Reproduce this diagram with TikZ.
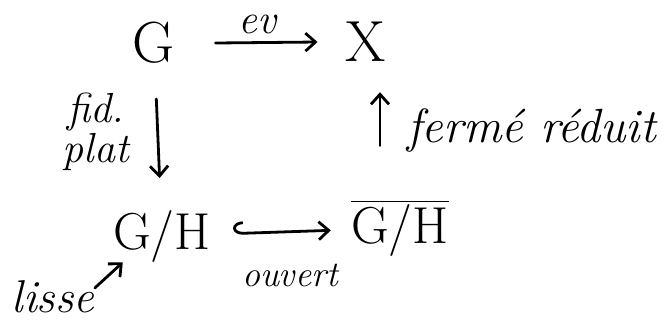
\documentclass[tikz,border=0pt]{standalone}
\usetikzlibrary{arrows.meta}
\begin{document}
\begin{tikzpicture}[x=0.5pt, y=-0.5pt,
  obj/.style={inner sep=0pt, font=\fontsize{29}{30}\selectfont},
  lbl/.style={inner sep=0pt, font=\fontsize{21}{20}\selectfont\itshape},
  cdarrow/.style={line width=1.4pt, line cap=round,
    -{Straight Barb[length=5pt, width=9pt, line width=1.4pt]}},
  hookarrow/.style={line width=1.4pt, line cap=round,
    {Hooks[right, length=5pt, width=12pt, line width=1.4pt]}-{Straight Barb[length=5pt, width=9pt, line width=1.4pt]}}]

  \useasboundingbox (0,0) rectangle (665,323);

  % --- Objets ---
  \node[obj] (G)     at (154,43)  {G};
  \node[obj] (X)     at (366,42)  {X};
  \node[obj, font=\fontsize{26}{28}\selectfont] (GH)    at (162,236) {G/H};
  \node[obj, font=\fontsize{26}{28}\selectfont] (GHbar) at (400,228) {$\overline{\mbox{G/H}}$};

  % --- Fleches ---
  \draw[cdarrow] ([xshift=20pt]G.east) -- ([xshift=-14pt]X.west);
  \draw[cdarrow, shorten <=28pt, shorten >=29pt] (G.center) -- (GH.center);
  \coordinate (upfoot) at ([xshift=-10pt]GHbar.north);
  \draw[cdarrow, shorten <=27pt, shorten >=15pt] (upfoot) -- (upfoot |- X.south);
  \draw[hookarrow, shorten <=11pt, shorten >=10pt] (GH) -- (GHbar);

  % --- Etiquettes ---
  \node[lbl] (ev) at (257,24) {ev};
  \node[lbl, align=center] (fidplat) at (96,132) {fid.\\plat};
  \node[lbl, anchor=west, font=\fontsize{24}{26}\selectfont\itshape] (ferme) at (407,130) {fermé réduit};
  \node[lbl, font=\fontsize{18}{20}\selectfont\itshape] (ouvert) at (290,275) {ouvert};
  \node[lbl, font=\fontsize{23}{25}\selectfont\itshape] (lisse) at (53,297) {lisse};

  % --- Lisse ---
  \draw[cdarrow] ([shift={(0pt,4.5pt)}]lisse.east) -- ([shift={(5pt,0pt)}]GH.south west);

\end{tikzpicture}
\end{document}
